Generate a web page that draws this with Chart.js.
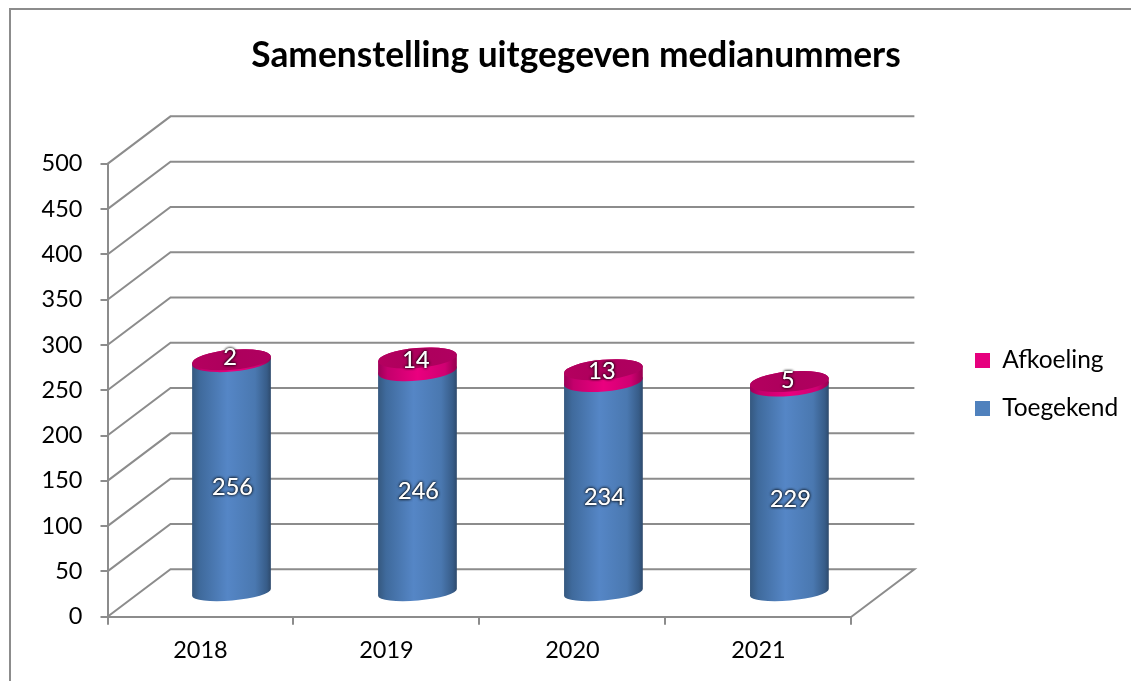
<!DOCTYPE html>
<html>
<head>
<meta charset="utf-8">
<title>Samenstelling uitgegeven medianummers</title>
<script src="https://cdn.jsdelivr.net/npm/chart.js@4"></script>
<style>
  html, body { margin: 0; padding: 0; background: #fff; }
  #wrap { width: 1131px; height: 681px; overflow: hidden; }
</style>
</head>
<body>
<div id="wrap"><canvas id="myChart" width="1131" height="681"></canvas></div>
<script>
const years = ['2018', '2019', '2020', '2021'];
const toegekend = [256, 246, 234, 229];
const afkoeling = [2, 14, 13, 5];
const yMax = 500;
const yStep = 50;

const lineColor = '#8c8c8c';
const fontName = 'Lato, Carlito, sans-serif';
const tickFont = { family: fontName, size: 23.5 };

// depth of the fake 3D box, bars sit halfway in
const depthX = 63;
const depthY = 47.5;
const tilt = 5 * Math.PI / 180;

function sideGradient(ctx, left, right, stops) {
    const g = ctx.createLinearGradient(left, 0, right, 0);
    stops.forEach(s => g.addColorStop(s[0], s[1]));
    return g;
}

const blueStops = [[0, '#35587f'], [0.1, '#3f6a9c'], [0.45, '#5586c6'], [0.8, '#4a78b0'], [0.95, '#375c88'], [1, '#2e4a6c']];
const pinkStops = [[0, '#9c0058'], [0.12, '#c4006c'], [0.5, '#ea007f'], [0.85, '#cf0072'], [1, '#96004f']];

function drawWalls(chart) {
    const ctx = chart.ctx;
    const y = chart.scales.y;
    const area = chart.chartArea;
    ctx.save();
    ctx.strokeStyle = lineColor;
    ctx.lineWidth = 2;
    y.ticks.forEach(t => {
        const py = y.getPixelForValue(t.value);
        ctx.beginPath();
        ctx.moveTo(area.left, py);
        ctx.lineTo(area.left + depthX, py - depthY);
        ctx.lineTo(area.right + depthX, py - depthY);
        if (t.value === 0) ctx.lineTo(area.right, py);
        ctx.stroke();
    });
    ctx.restore();
}

function drawSegment(ctx, cx, rx, yBottom, yTop, ryBottom, ryTop, stops) {
    const dx = rx * Math.cos(tilt);
    const dyTop = rx * Math.sin(tilt);
    ctx.beginPath();
    ctx.moveTo(cx + dx, yTop - dyTop);
    ctx.lineTo(cx + dx, yBottom - dyTop);
    ctx.ellipse(cx, yBottom, rx, ryBottom, -tilt, 0, Math.PI, false);
    ctx.lineTo(cx - dx, yTop + dyTop);
    ctx.ellipse(cx, yTop, rx, ryTop, -tilt, Math.PI, 0, false);
    ctx.closePath();
    ctx.fillStyle = sideGradient(ctx, cx - dx, cx + dx, stops);
    ctx.fill();
}

function drawCylinders(chart) {
    const ctx = chart.ctx;
    const blue = chart.getDatasetMeta(0).data;
    const pink = chart.getDatasetMeta(1).data;
    ctx.save();
    blue.forEach((bar, i) => {
        const top = pink[i];
        const cx = bar.x + depthX / 2 - 0.5;
        const rx = bar.width / 2;
        const off = depthY / 2 - 0.5;
        drawSegment(ctx, cx, rx, bar.base - off, bar.y - off, 8, 10, blueStops);
        drawSegment(ctx, cx, rx, top.base - off, top.y - off, 10, 10, pinkStops);
        ctx.beginPath();
        ctx.ellipse(cx, top.y - off, rx, 10, -tilt, 0, Math.PI * 2);
        ctx.fillStyle = sideGradient(ctx, cx - rx, cx + rx, [[0, '#b4005f'], [0.5, '#ad005c'], [1, '#b00060']]);
        ctx.fill();
    });
    ctx.restore();
}

function drawLabels(chart) {
    const ctx = chart.ctx;
    ctx.save();
    ctx.font = '23.5px ' + fontName;
    ctx.textAlign = 'center';
    ctx.textBaseline = 'middle';
    const labelShift = [[32, -13], [29.5, -27]];
    [0, 1].forEach(d => {
        const values = chart.data.datasets[d].data;
        chart.getDatasetMeta(d).data.forEach((bar, i) => {
            const mid = (bar.y + bar.base) / 2;
            const x = bar.x + labelShift[d][0];
            const y = mid + labelShift[d][1];
            ctx.shadowColor = 'rgba(0,0,0,0.9)';
            ctx.shadowBlur = 3;
            ctx.fillStyle = '#fff';
            ctx.fillText(String(values[i]), x, y);
            ctx.fillText(String(values[i]), x, y);
        });
    });
    ctx.restore();
}

const boxPlugin = {
    id: 'box3d',
    beforeDraw(chart) {
        const ctx = chart.ctx;
        ctx.save();
        ctx.strokeStyle = lineColor;
        ctx.lineWidth = 2;
        ctx.beginPath();
        ctx.moveTo(10, 681);
        ctx.lineTo(10, 9);
        ctx.lineTo(1131, 9);
        ctx.stroke();
        ctx.restore();
    },
    afterLayout(chart) {
        // move title and legend to where the original has them
        chart.titleBlock.left = 22;
        chart.titleBlock.right = 1130;
        chart.legend.left = 951.5;
        chart.legend.right = 1131;
        chart.legend.top = 324.75;
        chart.legend.bottom = 681;
    },
    beforeDatasetsDraw(chart) {
        drawWalls(chart);
        drawCylinders(chart);
        drawLabels(chart);
        return false;
    }
};

new Chart(document.getElementById('myChart').getContext('2d'), {
    type: 'bar',
    data: {
        labels: years,
        datasets: [
            { label: 'Toegekend', data: toegekend, backgroundColor: '#4f81bd' },
            { label: 'Afkoeling', data: afkoeling, backgroundColor: '#e6007e' }
        ]
    },
    plugins: [boxPlugin],
    options: {
        responsive: false,
        animation: false,
        layout: { padding: { right: 103 } },
        datasets: { bar: { barPercentage: 0.425, categoryPercentage: 1 } },
        plugins: {
            title: {
                display: true,
                text: 'Samenstelling uitgegeven medianummers',
                color: '#000',
                font: { family: fontName, size: 35.3, weight: 'bold' },
                padding: { top: 34, bottom: 87.5 }
            },
            legend: {
                position: 'right',
                align: 'start',
                reverse: true,
                labels: { color: '#000', font: { family: fontName, size: 24.5 }, boxWidth: 15, boxHeight: 15, padding: 23.5 }
            },
            tooltip: { enabled: false }
        },
        scales: {
            x: {
                stacked: true,
                afterFit: s => { s.height = 64.3; },
                border: { color: lineColor, width: 2 },
                grid: { offset: true, drawOnChartArea: false, color: lineColor, lineWidth: 2, tickLength: 8 },
                ticks: { color: '#000', font: tickFont, padding: 12 }
            },
            y: {
                stacked: true,
                min: 0,
                max: yMax,
                afterFit: s => { s.width = 107.5; },
                border: { color: lineColor, width: 2 },
                grid: { drawOnChartArea: false, color: lineColor, lineWidth: 2, tickLength: 7 },
                ticks: { color: '#000', font: tickFont, stepSize: yStep, padding: 18 }
            }
        }
    }
});
</script>
</body>
</html>
